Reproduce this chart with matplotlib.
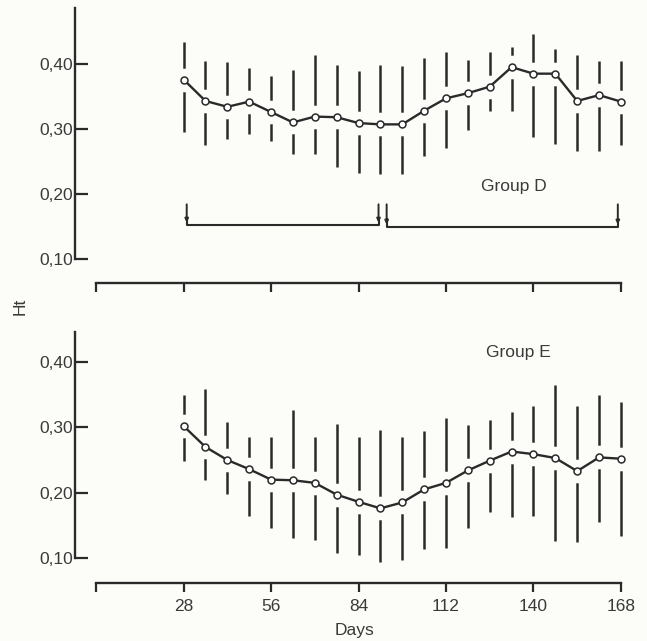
import matplotlib
matplotlib.use("Agg")
import matplotlib.pyplot as plt
import numpy as np

days = np.arange(28, 169, 7)

# Group D (top panel)
d_mean = [0.376, 0.343, 0.334, 0.342, 0.326, 0.310, 0.319, 0.318, 0.309, 0.307, 0.307,
          0.328, 0.347, 0.355, 0.365, 0.395, 0.385, 0.385, 0.343, 0.352, 0.342]
d_high = [0.433, 0.404, 0.403, 0.394, 0.381, 0.391, 0.414, 0.399, 0.389, 0.398, 0.397,
          0.409, 0.418, 0.406, 0.418, 0.426, 0.446, 0.423, 0.413, 0.404, 0.405]
d_low = [0.296, 0.276, 0.285, 0.292, 0.281, 0.261, 0.262, 0.242, 0.232, 0.231, 0.230,
         0.259, 0.270, 0.299, 0.328, 0.328, 0.287, 0.277, 0.266, 0.266, 0.276]

# Group E (bottom panel)
e_mean = [0.302, 0.270, 0.250, 0.236, 0.220, 0.219, 0.215, 0.197, 0.186, 0.176, 0.185,
          0.205, 0.215, 0.234, 0.249, 0.263, 0.259, 0.253, 0.233, 0.254, 0.252]
e_high = [0.350, 0.358, 0.308, 0.285, 0.285, 0.326, 0.285, 0.305, 0.286, 0.296, 0.285,
          0.294, 0.315, 0.304, 0.312, 0.323, 0.333, 0.365, 0.332, 0.349, 0.339]
e_low = [0.248, 0.219, 0.198, 0.165, 0.146, 0.131, 0.127, 0.108, 0.105, 0.094, 0.097,
         0.114, 0.115, 0.146, 0.171, 0.162, 0.164, 0.126, 0.124, 0.155, 0.133]

xticks = [0, 28, 56, 84, 112, 140, 168]
xticklabels = ['', '28', '56', '84', '112', '140', '168']
yticks = [0.10, 0.20, 0.30, 0.40]
yticklabels = ['0,10', '0,20', '0,30', '0,40']

# treatment periods marked under group D
periods = [(29, 90.4, 0.152), (93.0, 167, 0.149)]

bg = '#fcfcf8'
ink = '#2a2a2a'
txt = '#3a3a3a'

plt.rcParams['font.family'] = ['Liberation Sans', 'DejaVu Sans']
plt.rcParams['font.size'] = 12.5

W, H = 647, 641
fig = plt.figure(figsize=(W / 100, H / 100), dpi=100, facecolor=bg)

left_px, right_px = 75, 625
xlim = (-6.76, 169.3)


def make_axes(top_px, bottom_px, ylim):
    ax = fig.add_axes([left_px / W, 1 - bottom_px / H,
                       (right_px - left_px) / W, (bottom_px - top_px) / H])
    ax.set_facecolor(bg)
    ax.set_xlim(*xlim)
    ax.set_ylim(*ylim)
    for s in ['top', 'right']:
        ax.spines[s].set_visible(False)
    ax.spines['left'].set_bounds(0.10, ylim[1])
    ax.spines['bottom'].set_bounds(0, 168)
    for s in ['left', 'bottom']:
        ax.spines[s].set_linewidth(1.7)
        ax.spines[s].set_color(ink)
    ax.set_yticks(yticks)
    ax.set_yticklabels(yticklabels, color=txt)
    ax.set_xticks(xticks)
    ax.tick_params(axis='y', direction='in', length=9, width=1.6, pad=1.5, colors=ink,
                   labelcolor=txt)
    ax.tick_params(axis='x', direction='out', length=6.5, width=1.6, pad=5, colors=ink,
                   labelcolor=txt)
    return ax


def draw_series(ax, mean, low, high):
    ax.vlines(days, low, high, color=ink, lw=1.8, zorder=1)
    # white halo so the bars break around the curve, as in the print
    ax.plot(days, mean, color=bg, lw=7, ls='none', marker='o', ms=16, mec=bg,
            mfc=bg, zorder=2)
    ax.plot(days, mean, color=bg, lw=8, solid_capstyle='round', zorder=2)
    ax.plot(days, mean, color=ink, lw=1.7, marker='o', ms=5, mfc='white',
            mec=ink, mew=1.1, zorder=3)


ax1 = make_axes(8, 283, (0.063, 0.486))
ax1.set_xticklabels([])
draw_series(ax1, d_mean, d_low, d_high)
ax1.text(123.3, 0.211, 'Group D', ha='left', va='center', color=txt)

for x0, x1, yb in periods:
    ax1.plot([x0, x0, x1, x1], [0.162, yb, yb, 0.162], color=ink, lw=1.5)
    for xa in (x0, x1):
        ax1.annotate('', xy=(xa, yb + 0.004), xytext=(xa, 0.184),
                     arrowprops=dict(arrowstyle='-|>', color=ink, lw=1.4,
                                     mutation_scale=5, shrinkA=0, shrinkB=0))

ax2 = make_axes(332, 583, (0.0617, 0.446))
ax2.set_xticklabels(xticklabels)
draw_series(ax2, e_mean, e_low, e_high)
ax2.text(124.9, 0.414, 'Group E', ha='left', va='center', color=txt)

fig.text(20 / W, 1 - 306 / H, 'Ht', rotation=90, ha='center', va='center', color=txt)
fig.text(355 / W, 1 - 631 / H, 'Days', ha='center', va='center', color=txt)

fig.savefig('out.png', dpi=100, facecolor=bg)
